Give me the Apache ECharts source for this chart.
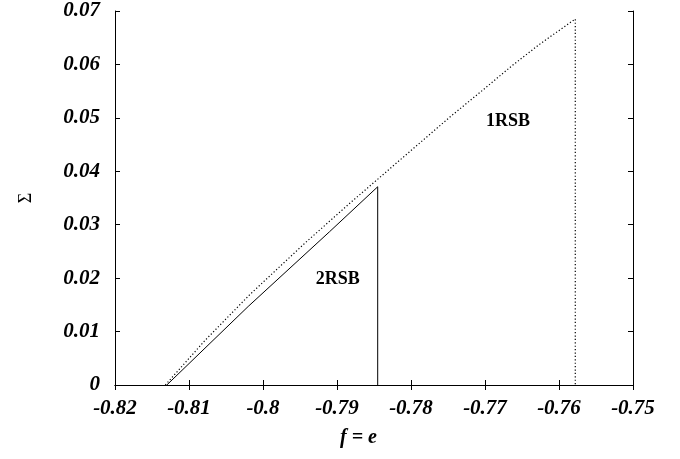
<!DOCTYPE html>
<html>
<head>
<meta charset="utf-8">
<script src="https://cdn.jsdelivr.net/npm/echarts@6/dist/echarts.min.js"></script>
<style>html,body{margin:0;padding:0;background:#fff}#c{width:680px;height:459px}</style>
</head>
<body>
<div id="c"></div>
<script>
// 1RSB curve (dotted)
const rsb1F = [-0.8132, -0.8078, -0.8018, -0.7943, -0.7882, -0.7815, -0.7747, -0.7703, -0.7664, -0.7626, -0.7578, -0.7578];
const rsb1Sigma = [0, 0.0084, 0.0169, 0.0266, 0.0341, 0.0421, 0.0502, 0.0552, 0.0597, 0.0638, 0.0685, 0];
// 2RSB curve (solid)
const rsb2F = [-0.8130, -0.8020, -0.7910, -0.7845, -0.7845];
const rsb2Sigma = [0, 0.0147, 0.0287, 0.0371, 0];
// region labels
const labelText = ['2RSB', '1RSB'];
const labelF = [-0.7899, -0.7669];
const labelSigma = [0.0197, 0.0494];

const xMin = -0.82, xMax = -0.75, xStep = 0.01;
const yMin = 0, yMax = 0.07, yStep = 0.01;

const zip = (a, b) => a.map((v, i) => [v, b[i]]);
const font = 'Liberation Serif';
const fmt = v => String(+v.toFixed(2));

const chart = echarts.init(document.getElementById('c'), null, {renderer: 'canvas'});
const axisLine = {show: true, lineStyle: {color: '#000', width: 1}};
const tick = {show: true, inside: true, length: 5, lineStyle: {color: '#000', width: 1}};
const lbl = {color: '#000', fontFamily: font, fontWeight: 'bold', fontStyle: 'italic', fontSize: 21, formatter: fmt};

chart.setOption({
  animation: false,
  backgroundColor: '#fff',
  grid: {left: 115, right: 47, top: 11, bottom: 74, containLabel: false},
  xAxis: [
    {type: 'value', min: xMin, max: xMax, interval: xStep, position: 'bottom',
     axisLine, axisTick: tick, splitLine: {show: false},
     axisLabel: Object.assign({margin: 13}, lbl)},
    {type: 'value', min: xMin, max: xMax, interval: xStep, position: 'top',
     axisLine, axisTick: tick, splitLine: {show: false}, axisLabel: {show: false}}
  ],
  yAxis: [
    {type: 'value', min: yMin, max: yMax, interval: yStep, position: 'left',
     axisLine, axisTick: tick, splitLine: {show: false},
     axisLabel: Object.assign({margin: 15}, lbl),
     name: 'Σ', nameLocation: 'middle', nameRotate: 90, nameGap: 80,
     nameTextStyle: {color: '#000', fontFamily: font, fontSize: 18}},
    {type: 'value', min: yMin, max: yMax, interval: yStep, position: 'right',
     axisLine, axisTick: tick, splitLine: {show: false}, axisLabel: {show: false}}
  ],
  graphic: [{
    type: 'text', left: 340, top: 428,
    style: {text: 'f = e', fill: '#000', font: 'italic bold 20px "Liberation Serif"'}
  }],
  series: [
    {type: 'line', data: zip(rsb1F, rsb1Sigma), showSymbol: false, symbol: 'none',
     lineStyle: {color: '#000', width: 1.2, type: [1.2, 2.2]}, z: 3},
    {type: 'line', data: zip(rsb2F, rsb2Sigma), showSymbol: false, symbol: 'none',
     lineStyle: {color: '#000', width: 1}, z: 3},
    {type: 'scatter', symbolSize: 0, itemStyle: {opacity: 1},
     data: labelText.map((t, i) => ({name: t, value: [labelF[i], labelSigma[i]]})),
     label: {show: true, position: 'inside', formatter: p => p.name,
             color: '#000', fontFamily: font, fontWeight: 'bold', fontSize: 18}}
  ]
});
</script>
</body>
</html>
